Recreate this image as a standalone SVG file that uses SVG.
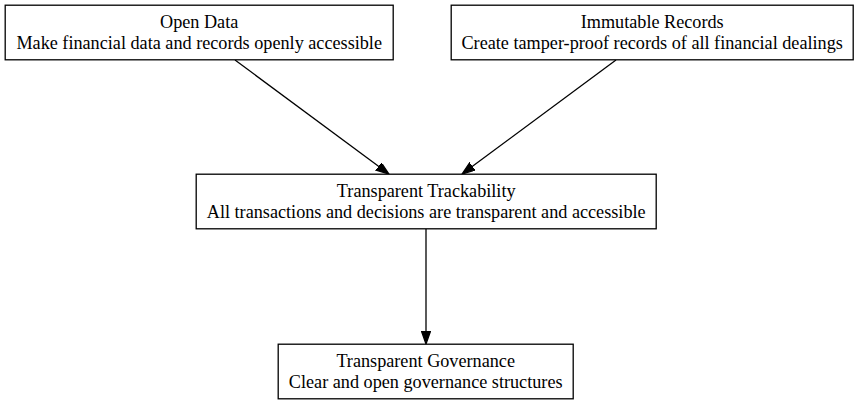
<svg xmlns="http://www.w3.org/2000/svg" width="859" height="404" viewBox="0 0 859 404">
<style>
.node rect{fill:#fff;stroke:#000;stroke-width:1.3}
.node text{font-family:"Liberation Serif","Times New Roman",serif;font-size:18.2px;text-anchor:middle;fill:#000}
.edge{stroke:#000;stroke-width:1.3;fill:none}
</style>
<defs>
<marker id="arr" markerUnits="userSpaceOnUse" markerWidth="14" markerHeight="10" refX="0" refY="4.6" orient="auto" viewBox="0 0 14 10">
<path d="M0,0 L13,4.6 L0,9.2 z" fill="#000" stroke="#000" stroke-width="1.3"/>
</marker>
</defs>
<rect width="859" height="404" fill="#fff"/>
<g id="connectors">
<path class="edge" d="M235,60 L378.5,166.3" marker-end="url(#arr)"/>
<path class="edge" d="M616,60 L472.5,166.3" marker-end="url(#arr)"/>
<path class="edge" d="M426,229 L426,331" marker-end="url(#arr)"/>
</g>
<g id="open-data" class="node">
<rect x="5.2" y="5.2" width="388" height="54.6"/>
<text x="199.2" y="27.5">Open Data</text>
<text x="199.2" y="49.3">Make financial data and records openly accessible</text>
</g>
<g id="immutable-records" class="node">
<rect x="451.2" y="5.2" width="402" height="54.6"/>
<text x="652.2" y="27.5">Immutable Records</text>
<text x="652.2" y="49.3">Create tamper-proof records of all financial dealings</text>
</g>
<g id="transparent-trackability" class="node">
<rect x="196.2" y="174.2" width="460" height="54.6"/>
<text x="426.2" y="196.5">Transparent Trackability</text>
<text x="426.2" y="218.3">All transactions and decisions are transparent and accessible</text>
</g>
<g id="transparent-governance" class="node">
<rect x="278.2" y="344.2" width="295" height="54.6"/>
<text x="425.7" y="366.5">Transparent Governance</text>
<text x="425.7" y="388.3">Clear and open governance structures</text>
</g>
</svg>
